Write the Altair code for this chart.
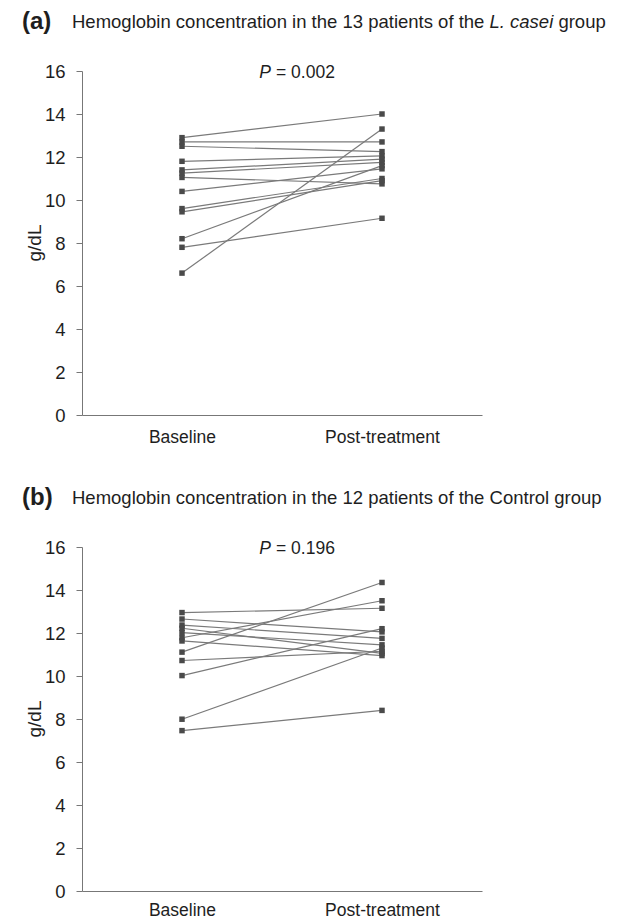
import altair as alt
import pandas as pd

categories = ["Baseline", "Post-treatment"]
y_ticks = [0, 2, 4, 6, 8, 10, 12, 14, 16]

# Panel (a): L. casei group (13 patients)
a_baseline = [12.9, 12.7, 12.5, 11.8, 11.4, 11.25, 11.05, 10.4, 9.6, 9.45, 8.2, 7.8, 6.6]
a_post = [14.0, 12.7, 12.25, 12.05, 11.9, 11.75, 10.75, 11.45, 11.0, 10.9, 11.6, 9.15, 13.3]

# Panel (b): Control group (12 patients)
b_baseline = [12.95, 12.65, 12.37, 12.22, 12.02, 11.78, 11.63, 11.11, 10.72, 10.02, 7.99, 7.46]
b_post = [13.15, 12.05, 11.75, 11.05, 11.45, 13.5, 10.95, 14.35, 11.15, 12.2, 11.3, 8.4]

a_letter = "(a)"
a_title_parts = ["Hemoglobin concentration in the 13 patients of the", "L. casei", "group"]
a_pvalue = "= 0.002"
b_letter = "(b)"
b_title_parts = ["Hemoglobin concentration in the 12 patients of the Control group"]
b_pvalue = "= 0.196"
y_title = "g/dL"

FONT = "Liberation Sans"
W, H = 400, 344
TEXT_COLOR = "#1e1e1e"


def long_df(base, post):
    rows = []
    for i, (b, p) in enumerate(zip(base, post)):
        rows.append({"patient": i, "t": 1, "value": b})
        rows.append({"patient": i, "t": 2, "value": p})
    return pd.DataFrame(rows)


label_expr = f"datum.value == 1 ? '{categories[0]}' : '{categories[1]}'"


def text_layer(s, x, y, size, weight="normal", style="normal", align="left", angle=0):
    kw = dict(font=FONT, fontSize=size, fontWeight=weight, fontStyle=style,
              align=align, baseline="middle", color=TEXT_COLOR)
    if angle:
        kw["angle"] = angle
    return alt.Chart(pd.DataFrame({"s": [s]})).mark_text(**kw).encode(
        x=alt.value(x), y=alt.value(y), text="s:N")


def panel(base, post, letter, title_parts, title_x, pval, label_pad):
    df = long_df(base, post)
    x = alt.X("t:Q", scale=alt.Scale(domain=[0.5, 2.5], nice=False, zero=False),
              axis=alt.Axis(values=[1, 2], labelExpr=label_expr, ticks=False, grid=False,
                            title=None, labelFontSize=17.5, labelFont=FONT,
                            labelColor=TEXT_COLOR, labelPadding=label_pad, domainColor="#777777",
                            labelFlush=False))
    y = alt.Y("value:Q", scale=alt.Scale(domain=[0, 16], nice=False),
              axis=alt.Axis(values=y_ticks, grid=False, title=None, tickSize=6,
                            tickColor="#777777", domainColor="#777777", labelFontSize=18.5,
                            labelFont=FONT, labelColor=TEXT_COLOR, labelPadding=11))
    ch = alt.Chart(df)
    lines = ch.mark_line(color="#7a7a7a", strokeWidth=1.2).encode(
        x=x, y=y, detail="patient:N", order="t:Q")
    pts = ch.mark_square(size=30, color="#4a4a4a", opacity=1).encode(x=x, y=y)

    layers = [lines, pts,
              text_layer(letter, -60, -49, 24, weight="bold")]
    styles = ["normal", "italic", "normal"]
    for part, tx, st in zip(title_parts, title_x, styles):
        layers.append(text_layer(part, tx, -49, 18.5, style=st))
    layers.append(text_layer("P", 189, 2, 17.5, style="italic", align="right"))
    layers.append(text_layer(pval, 194, 2, 17.5))
    layers.append(text_layer(y_title, -47, H / 2, 19, angle=270, align="center"))
    return alt.layer(*layers).properties(width=W, height=H)


pa = panel(a_baseline, a_post, a_letter, a_title_parts, [-10, 407.5, 476.4], a_pvalue, 13)
pb = panel(b_baseline, b_post, b_letter, b_title_parts, [-10], b_pvalue, 10)

chart = alt.vconcat(pa, pb, spacing=40).properties(
    padding={"left": 14, "top": 2, "right": 5, "bottom": 0}
).configure_view(strokeWidth=0)

chart.save("out.html", embed_options={"renderer": "svg", "actions": False})
